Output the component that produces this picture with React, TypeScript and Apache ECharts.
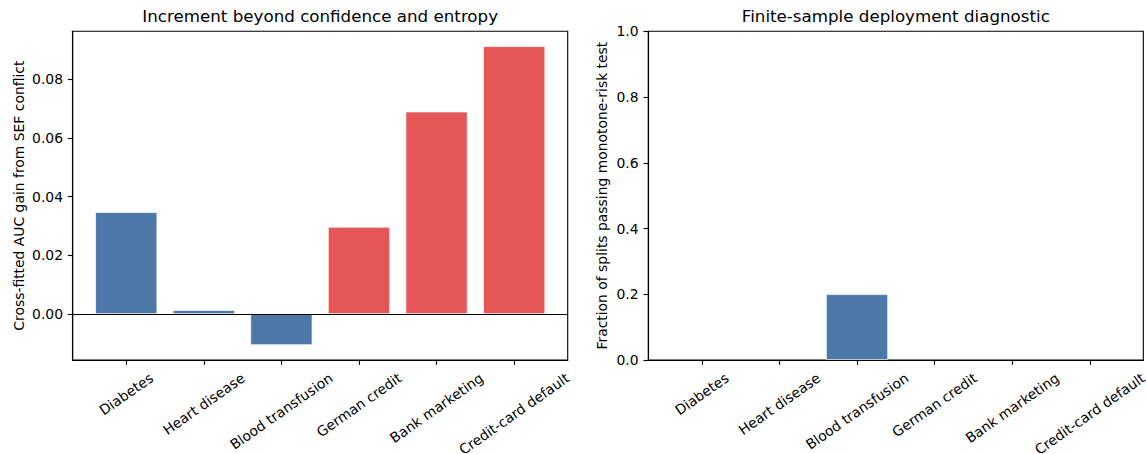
import React, { useEffect, useRef } from 'react';
import * as echarts from 'echarts';

// ---- Data ----
const categories = [
  'Diabetes',
  'Heart disease',
  'Blood transfusion',
  'German credit',
  'Bank marketing',
  'Credit-card default',
];
const aucGain = [0.0347, 0.0013, -0.0106, 0.0297, 0.069, 0.0913];
const gainGroup = ['low', 'low', 'low', 'high', 'high', 'high'];
const passFraction = [0, 0, 0.2, 0, 0, 0];
const leftYTicks = [0, 0.02, 0.04, 0.06, 0.08];
const rightYTicks = [0, 0.2, 0.4, 0.6, 0.8, 1.0];
const leftTitle = 'Increment beyond confidence and entropy';
const rightTitle = 'Finite-sample deployment diagnostic';
const leftYName = 'Cross-fitted AUC gain from SEF conflict';
const rightYName = 'Fraction of splits passing monotone-risk test';

// ---- Styles ----
const FONT = 'DejaVu Sans';
const FS = 13.9;
const TITLE_FS = 16.7;
const LW = 1.11;
const TICK = 4.86;
const PAD = 4.86;
const BLUE = '#4C78A8';
const RED = '#E45756';
const groupColor: Record<string, string> = { low: BLUE, high: RED };

const G0 = { left: 72.7, top: 31.3, width: 495, height: 328.7 };
const G1 = { left: 648.3, top: 31.3, width: 495, height: 328.7 };

export default function App() {
  const ref = useRef<HTMLDivElement>(null);

  useEffect(() => {
    if (!ref.current) return;
    const chart = echarts.init(ref.current, undefined, { renderer: 'svg' });

    const n = categories.length;
    const xMin = -0.4 - 0.05 * (n - 1 + 0.8);
    const xMax = n - 1 + 0.4 + 0.05 * (n - 1 + 0.8);
    const lo = Math.min(0, ...aucGain);
    const hi = Math.max(0, ...aucGain);
    const yMin = lo - 0.05 * (hi - lo);
    const yMax = hi + 0.05 * (hi - lo);
    const xTickVals = categories.map((_, i) => i);

    const axisLineStyle = { color: '#000', width: LW };

    const makeX = (gridIndex: number) => ({
      type: 'value',
      gridIndex,
      min: xMin,
      max: xMax,
      z: 10,
      splitLine: { show: false },
      axisLine: { show: true, onZero: false, lineStyle: axisLineStyle },
      axisTick: { show: true, length: TICK, customValues: xTickVals, lineStyle: axisLineStyle },
      axisLabel: { show: false },
    });

    const makeY = (gridIndex: number, min: number, max: number, ticks: number[], dec: number, name: string, gap: number) => ({
      type: 'value',
      gridIndex,
      min,
      max,
      z: 10,
      name,
      nameLocation: 'middle',
      nameGap: gap,
      nameTextStyle: { fontFamily: FONT, fontSize: FS, color: '#000' },
      splitLine: { show: false },
      axisLine: { show: true, onZero: false, lineStyle: axisLineStyle },
      axisTick: { show: true, length: TICK, customValues: ticks, lineStyle: axisLineStyle },
      axisLabel: {
        show: true,
        customValues: ticks,
        margin: TICK + PAD,
        fontFamily: FONT,
        fontSize: FS,
        color: '#000',
        formatter: (v: number) => v.toFixed(dec),
      },
    });

    const titleStyle = { fontFamily: FONT, fontSize: TITLE_FS, fontWeight: 'normal', color: '#000' };

    const option: any = {
      animation: false,
      backgroundColor: '#fff',
      title: [
        { text: leftTitle, left: G0.left + G0.width / 2, top: 7, padding: 0, textAlign: 'center', textStyle: titleStyle },
        { text: rightTitle, left: G1.left + G1.width / 2, top: 7, padding: 0, textAlign: 'center', textStyle: titleStyle },
      ],
      grid: [
        { ...G0, show: true, borderColor: '#000', borderWidth: LW, backgroundColor: 'transparent', containLabel: false },
        { ...G1, show: true, borderColor: '#000', borderWidth: LW, backgroundColor: 'transparent', containLabel: false },
      ],
      xAxis: [makeX(0), makeX(1)],
      yAxis: [
        makeY(0, yMin, yMax, leftYTicks, 2, leftYName, 47),
        makeY(1, 0, 1, rightYTicks, 1, rightYName, 39.3),
      ],
      series: [
        {
          type: 'bar',
          xAxisIndex: 0,
          yAxisIndex: 0,
          barWidth: '80%',
          data: aucGain.map((v, i) => ({
            value: [i, v],
            itemStyle: { color: groupColor[gainGroup[i]] },
          })),
          itemStyle: { borderColor: '#fff', borderWidth: 0.7 },
          markLine: {
            silent: true,
            symbol: 'none',
            label: { show: false },
            lineStyle: { color: '#000', width: LW, type: 'solid' },
            data: [{ yAxis: 0 }],
          },
        },
        {
          type: 'bar',
          xAxisIndex: 1,
          yAxisIndex: 1,
          barWidth: '80%',
          data: passFraction.map((v, i) => ({
            value: [i, v],
            itemStyle: { borderWidth: v === 0 ? 0 : 0.7 },
          })),
          itemStyle: { color: BLUE, borderColor: '#fff', borderWidth: 0.7 },
        },
      ],
    };

    chart.setOption(option);

    // Rotated category labels, centred under each tick (rotation 35°, centre-aligned bbox)
    const canvas = document.createElement('canvas');
    const ctx = canvas.getContext('2d')!;
    ctx.font = `${FS}px "${FONT}"`;
    const ang = (35 * Math.PI) / 180;
    const c = Math.cos(ang);
    const s = Math.sin(ang);
    const lineH = FS * 1.164;
    const labels: any[] = [];
    [0, 1].forEach((xi) => {
      const g = xi === 0 ? G0 : G1;
      const axisY = g.top + g.height;
      categories.forEach((name, i) => {
        const px = chart.convertToPixel({ xAxisIndex: xi }, i) as unknown as number;
        const w = ctx.measureText(name).width;
        const cy = axisY + TICK + PAD + (w * s + lineH * c) / 2;
        labels.push({
          type: 'text',
          x: px,
          y: cy,
          rotation: ang,
          silent: true,
          style: {
            text: name,
            fontFamily: FONT,
            fontSize: FS,
            fill: '#000',
            align: 'center',
            verticalAlign: 'middle',
          },
        });
      });
    });
    chart.setOption({ graphic: labels });

    return () => chart.dispose();
  }, []);

  return (
    <div
      ref={ref}
      style={{ position: 'fixed', left: 0, top: 0, width: 1146, height: 454, background: '#fff' }}
    />
  );
}
